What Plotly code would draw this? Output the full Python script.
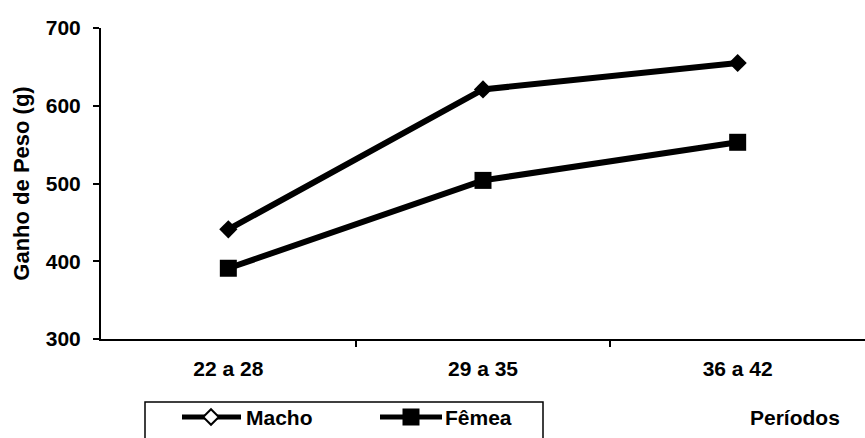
import plotly.graph_objects as go

categories = ["22 a 28", "29 a 35", "36 a 42"]
macho = [441, 621, 655]
femea = [391, 504, 553]
y_ticks = [300, 400, 500, 600, 700]
series_names = ["Macho", "Fêmea"]

W, H = 865, 438
# plot area in pixels (layout, not data)
PL, PT, PB = 101, 28, 339

xpos = [i + 0.5 for i in range(len(categories))]
FONT = "Arial, Liberation Sans, sans-serif"
FS = 21

fig = go.Figure()
fig.add_trace(go.Scatter(x=xpos, y=macho, mode="lines+markers", name=series_names[0],
                         showlegend=False,
                         line=dict(color="black", width=6),
                         marker=dict(symbol="diamond", size=14, color="black")))
fig.add_trace(go.Scatter(x=xpos, y=femea, mode="lines+markers", name=series_names[1],
                         showlegend=False,
                         line=dict(color="black", width=6),
                         marker=dict(symbol="square", size=17, color="black")))

# custom legend drawn on an auxiliary pixel-like axis pair
LEG_Y = 417
leg_items = [  # (line x0, line x1, marker x, text x, symbol, fill, size)
    (182, 241, 211, 244, "diamond", "white", 12),
    (380, 442, 411, 443, "square", "black", 15),
]
for (x0, x1, xm, xt, sym, fill, ms), name in zip(leg_items, series_names):
    fig.add_trace(go.Scatter(x=[x0, x1], y=[LEG_Y, LEG_Y], mode="lines",
                             xaxis="x2", yaxis="y2", showlegend=False, hoverinfo="skip",
                             line=dict(color="black", width=5)))
    fig.add_trace(go.Scatter(x=[xm], y=[LEG_Y], mode="markers",
                             xaxis="x2", yaxis="y2", showlegend=False, hoverinfo="skip",
                             marker=dict(symbol=sym, size=ms, color=fill,
                                         line=dict(color="black", width=2))))
    fig.add_annotation(text=name, x=xt, y=LEG_Y, xref="x2", yref="y2",
                       xanchor="left", yanchor="middle", showarrow=False,
                       font=dict(size=FS, weight=700))

fig.add_shape(type="rect", xref="x2", yref="y2", x0=145, x1=543, y0=402, y1=450,
              line=dict(color="black", width=1.5), fillcolor="rgba(0,0,0,0)")
fig.add_annotation(text="Períodos", x=795, y=LEG_Y, xref="x2", yref="y2",
                   xanchor="center", yanchor="middle", showarrow=False,
                   font=dict(size=FS, weight=700))

fig.update_layout(
    width=W, height=H,
    margin=dict(l=0, r=0, t=0, b=0, autoexpand=False),
    paper_bgcolor="white", plot_bgcolor="white",
    font=dict(family=FONT, size=FS, color="black", weight=700),
    showlegend=False,
    xaxis=dict(domain=[PL / W, 1], range=[0, 3], tickvals=xpos, ticktext=categories,
               ticks="", showgrid=False, zeroline=False, showline=True,
               linecolor="black", linewidth=2, ticklabelstandoff=10, automargin=False,
               minor=dict(tickvals=[1, 2], ticks="outside", ticklen=6,
                          tickcolor="black", tickwidth=1.5, showgrid=False)),
    yaxis=dict(domain=[(H - PB) / H, (H - PT) / H], range=[300, 700], tickvals=y_ticks,
               ticks="outside", ticklen=6, tickcolor="black", tickwidth=1.5,
               showgrid=False, zeroline=False, showline=True, linecolor="black",
               linewidth=2, ticklabelstandoff=8, automargin=False,
               title=dict(text="Ganho de Peso (g)", standoff=10,
                          font=dict(size=22, weight=700))),
    xaxis2=dict(domain=[0, 1], range=[0, W], visible=False, anchor="y2",
                fixedrange=True),
    yaxis2=dict(domain=[0, (H - PB) / H], range=[H, PB], visible=False, anchor="x2",
                fixedrange=True),
)

fig.write_html("out.html")
